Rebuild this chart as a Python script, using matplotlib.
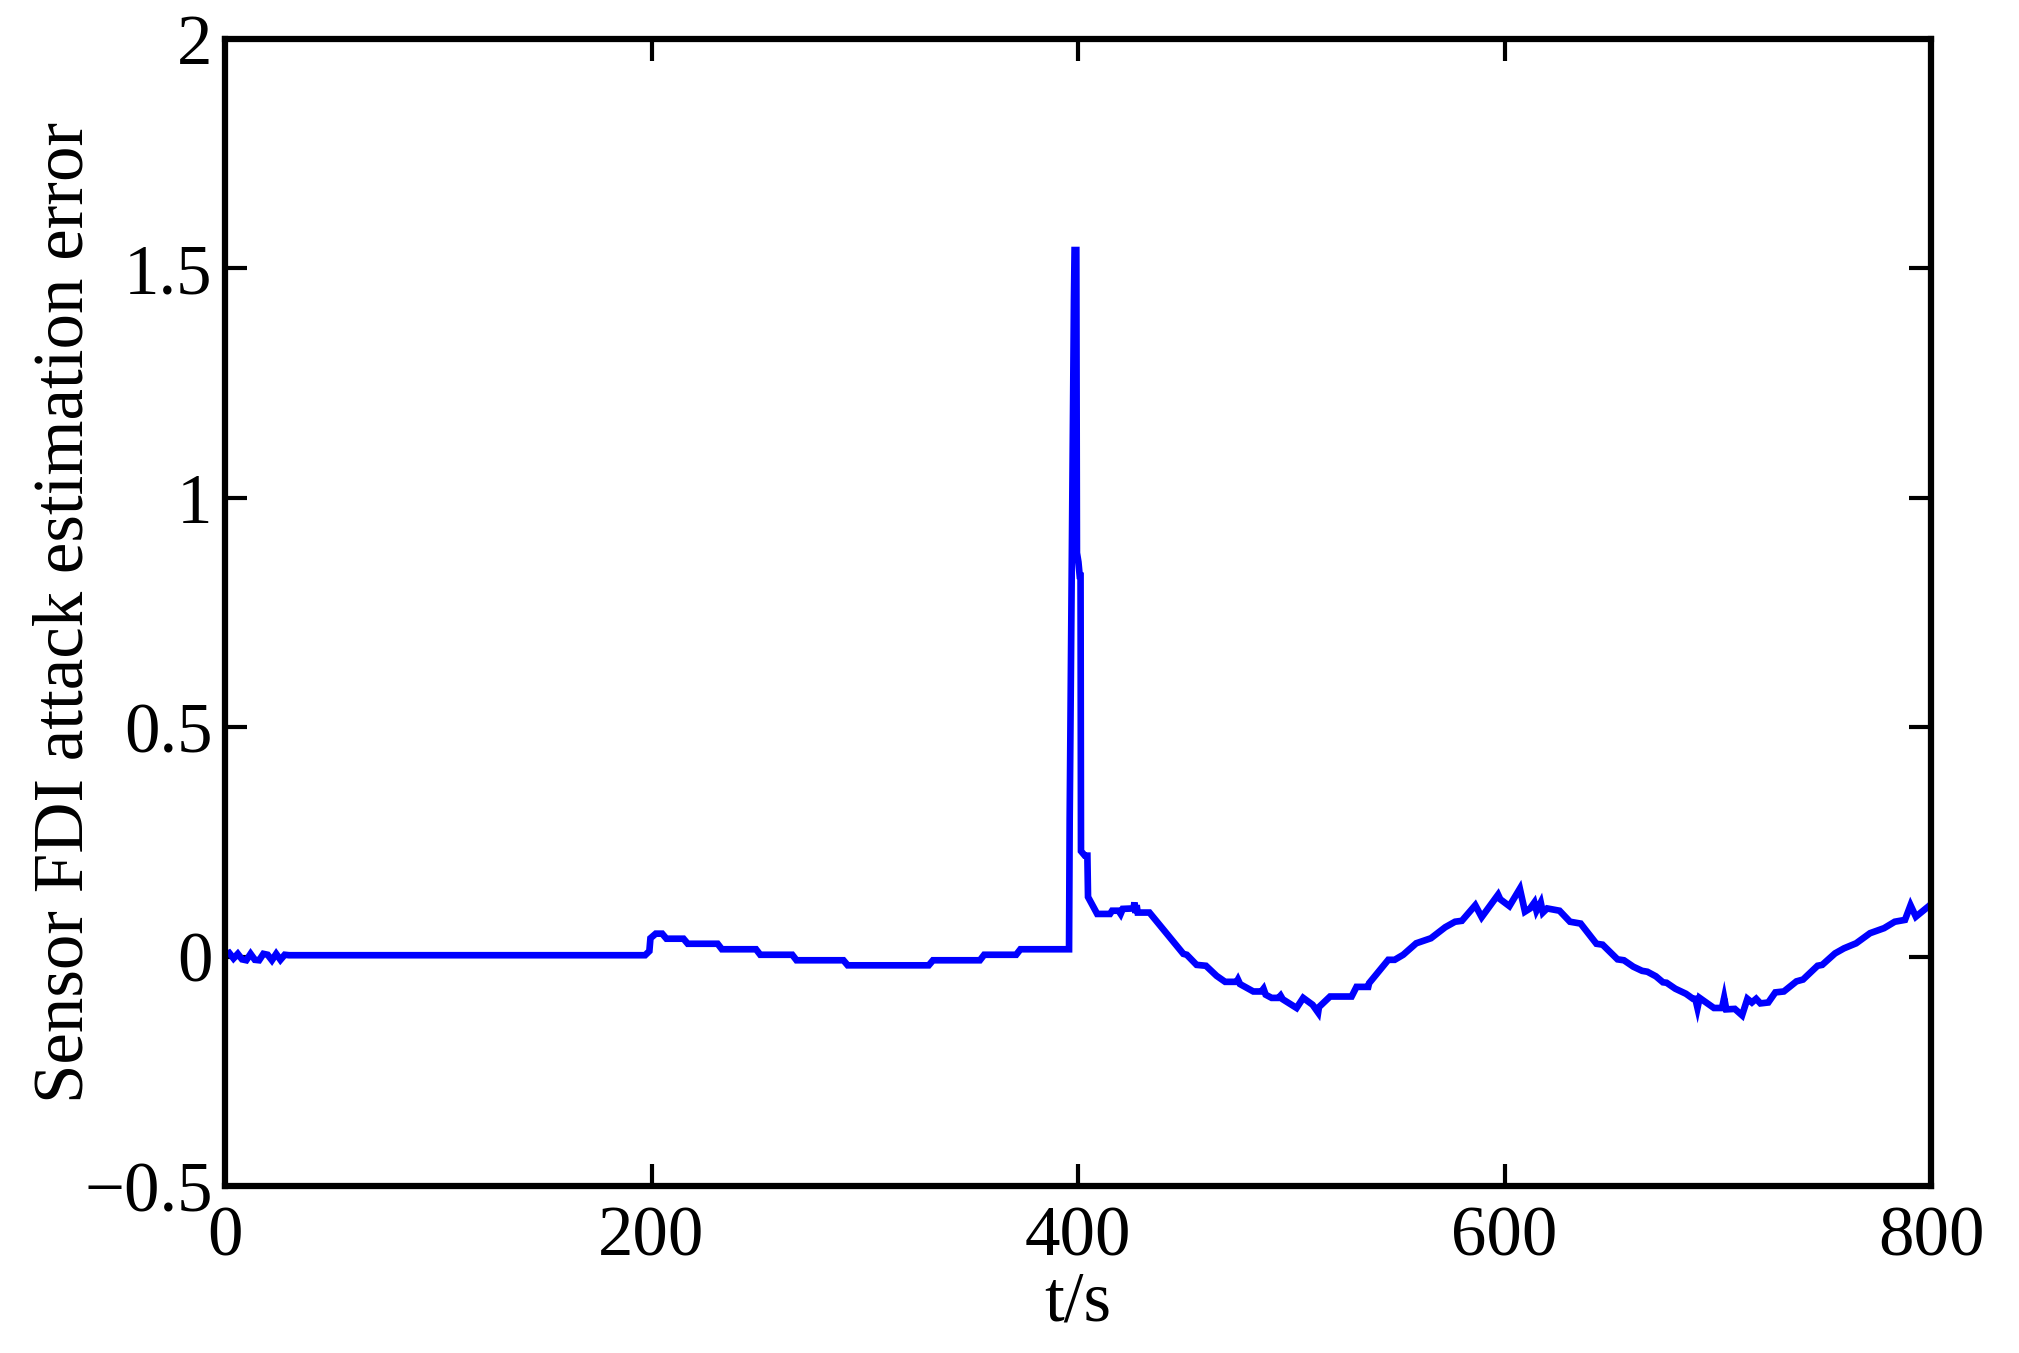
import matplotlib
matplotlib.use("Agg")
import matplotlib.pyplot as plt

# time axis (s)
t_s = [0, 2, 4, 6, 8, 10, 12, 14, 16, 18, 20, 22, 24, 26, 28, 30,
       197, 199, 199.5, 202, 205, 207, 215, 217, 231, 233, 249, 251, 266, 268, 290, 292, 330, 332, 354, 356, 371, 373, 395.8,
       396.1, 396.6, 397.1, 397.6, 398.1, 398.4, 399.2, 399.5, 400.2, 400.8, 401.2, 401.4, 403.2, 404.4, 404.7,
       409, 415, 416, 419, 420, 421, 426, 426.5, 427, 427.5, 428, 433.5,
       449.4, 451, 455.6, 460, 465, 469, 474.4, 475, 476, 482.2, 486, 487, 488, 490.8, 494, 495, 496,
       502.5, 505.6, 510, 512.6, 513, 518.2, 528.3, 530.6, 536.1, 536.5, 545.5, 548.5, 552.5,
       558.6, 565.5, 572.2, 576.8, 580, 586.3, 589.3, 597, 598, 602.3, 607.2, 609.6, 612, 614, 615, 617, 618, 620,
       625.8, 630.7, 635.7, 643.1, 646, 653, 656, 660.4, 664.5, 667, 671, 674.3, 676, 680.1, 685.1, 688.4,
       689.5, 690.5, 691.5, 698.2, 702, 703, 704, 708, 711.4, 713.9, 716, 718, 720, 723.7, 727, 731,
       736.9, 740, 746.8, 749, 755, 759.2, 764.9, 771.4, 778, 783, 787.8, 790.4, 792.9, 799.5, 800]

# estimation error
err = [0.003, 0.008, -0.004, 0.006, -0.006, -0.008, 0.006, -0.007, -0.008, 0.006, 0.004, -0.008, 0.006, -0.007, 0.004, 0.003,
       0.003, 0.012, 0.040, 0.050, 0.050, 0.039, 0.039, 0.028, 0.028, 0.016, 0.016, 0.004, 0.004, -0.008, -0.008, -0.019, -0.019, -0.008, -0.008, 0.004, 0.004, 0.016, 0.016,
       0.30, 0.59, 0.87, 1.15, 1.43, 1.54, 1.54, 0.88, 0.86, 0.83, 0.83, 0.23, 0.22, 0.22, 0.13,
       0.093, 0.093, 0.100, 0.100, 0.093, 0.104, 0.105, 0.118, 0.095, 0.112, 0.096, 0.096,
       0.006, 0.004, -0.018, -0.020, -0.042, -0.055, -0.055, -0.050, -0.060, -0.076, -0.076, -0.070, -0.083, -0.090, -0.090, -0.085, -0.093,
       -0.112, -0.090, -0.105, -0.122, -0.110, -0.087, -0.087, -0.066, -0.066, -0.058, -0.007, -0.007, 0.004,
       0.029, 0.040, 0.064, 0.076, 0.078, 0.112, 0.086, 0.135, 0.125, 0.110, 0.148, 0.098, 0.105, 0.118, 0.100, 0.118, 0.096, 0.105,
       0.100, 0.076, 0.072, 0.028, 0.026, -0.006, -0.008, -0.022, -0.031, -0.033, -0.043, -0.056, -0.057, -0.070, -0.081, -0.092,
       -0.092, -0.112, -0.090, -0.112, -0.112, -0.090, -0.115, -0.114, -0.128, -0.092, -0.100, -0.092, -0.102, -0.100, -0.078, -0.076,
       -0.054, -0.050, -0.020, -0.018, 0.007, 0.018, 0.029, 0.051, 0.062, 0.076, 0.080, 0.112, 0.087, 0.112, 0.115]

x_ticks = [0, 200, 400, 600, 800]
x_tick_labels = ["0", "200", "400", "600", "800"]
y_ticks = [-0.5, 0, 0.5, 1, 1.5, 2]
y_tick_labels = ["\u22120.5", "0", "0.5", "1", "1.5", "2"]

plt.rcParams['font.family'] = ['Liberation Serif', 'DejaVu Serif']
FS = 51

fig = plt.figure(figsize=(20.19, 13.53), dpi=100)
ax = fig.add_axes([225 / 2019, 1 - 1186 / 1353, (1931 - 225) / 2019, (1186 - 39) / 1353])

ax.plot(t_s, err, color=(0, 0, 1), lw=4.8, solid_joinstyle='miter')

ax.set_xlim(0, 800)
ax.set_ylim(-0.5, 2)
ax.set_xticks(x_ticks)
ax.set_xticklabels(x_tick_labels)
ax.set_yticks(y_ticks)
ax.set_yticklabels(y_tick_labels)

ax.tick_params(axis='both', which='major', direction='in', length=16, width=3,
               top=True, right=True, labelsize=FS, colors='black')
ax.tick_params(axis='x', pad=14)
ax.tick_params(axis='y', pad=9)
for s in ax.spines.values():
    s.set_linewidth(4.5)
    s.set_color('black')

ax.set_xlabel("t/s", fontsize=FS, labelpad=0)
ax.set_ylabel("Sensor FDI attack estimation error", fontsize=FS, labelpad=-10)

fig.savefig("out.png", dpi=100)
